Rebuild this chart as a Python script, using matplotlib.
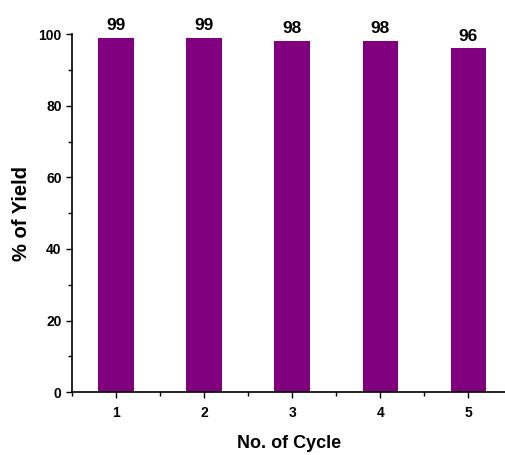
import matplotlib.pyplot as plt
from matplotlib.ticker import MultipleLocator

plt.rcParams['font.family'] = ['Liberation Sans', 'DejaVu Sans']
plt.rcParams['font.weight'] = 'bold'

cycles = [1, 2, 3, 4, 5]
yields = [99, 99, 98, 98, 96]

fig = plt.figure(figsize=(5.06, 4.55), dpi=100)
ax = fig.add_axes([0.1423, 0.138, 0.856, 0.787])

ax.bar(cycles, yields, width=0.4, color='#800080')
for x, y in zip(cycles, yields):
    ax.annotate(str(y), (x, y), xytext=(0, 3.5), textcoords='offset points',
                ha='center', va='bottom', fontsize=12.5, fontweight='bold')

ax.set_xlim(0.5, 5.42)
ax.set_ylim(0, 100)
ax.set_xticks(cycles)
ax.set_yticks([0, 20, 40, 60, 80, 100])
ax.xaxis.set_minor_locator(MultipleLocator(0.5))
ax.yaxis.set_minor_locator(MultipleLocator(10))
ax.tick_params(which='major', length=4, width=1, labelsize=10, direction='out')
ax.tick_params(axis='x', which='major', pad=6)
ax.tick_params(which='minor', length=3, width=1, direction='out')
for lab in ax.get_xticklabels() + ax.get_yticklabels():
    lab.set_fontweight('bold')

ax.spines['top'].set_visible(False)
ax.spines['right'].set_visible(False)
ax.spines['left'].set_linewidth(1.2)
ax.spines['bottom'].set_linewidth(1.2)

ax.set_xlabel('No. of Cycle', fontsize=13, fontweight='bold', labelpad=11)
ax.set_ylabel('% of Yield', fontsize=14.5, fontweight='bold', labelpad=5)

fig.savefig('out.png', dpi=100)
